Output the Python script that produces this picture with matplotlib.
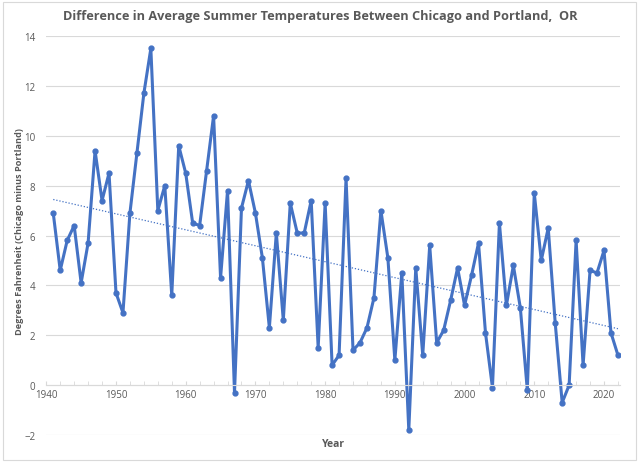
import numpy as np
import matplotlib.pyplot as plt
from matplotlib.patches import Rectangle
from matplotlib.ticker import MultipleLocator

years = np.arange(1941, 2023)
diff = [6.9, 4.6, 5.8, 6.4, 4.1, 5.7, 9.4, 7.4, 8.5, 3.7,
        2.9, 6.9, 9.3, 11.7, 13.5, 7.0, 8.0, 3.6, 9.6, 8.5,
        6.5, 6.4, 8.6, 10.8, 4.3, 7.8, -0.3, 7.1, 8.2, 6.9,
        5.1, 2.3, 6.1, 2.6, 7.3, 6.1, 6.1, 7.4, 1.5, 7.3,
        0.8, 1.2, 8.3, 1.4, 1.7, 2.3, 3.5, 7.0, 5.1, 1.0,
        4.5, -1.8, 4.7, 1.2, 5.6, 1.7, 2.2, 3.4, 4.7, 3.2,
        4.4, 5.7, 2.1, -0.1, 6.5, 3.2, 4.8, 3.1, -0.2, 7.7,
        5.0, 6.3, 2.5, -0.7, 0.0, 5.8, 0.8, 4.6, 4.5, 5.4,
        2.1, 1.2]

title = "Difference in Average Summer Temperatures Between Chicago and Portland,  OR"
xlabel = "Year"
ylabel = "Degrees Fahrenheit (Chicago minus Portland)"

blue = "#4472C4"
gray_text = "#595959"
grid_col = "#D9D9D9"
font = ["Open Sans", "DejaVu Sans"]

fig = plt.figure(figsize=(6.4, 4.64), dpi=100)
fig.patches.append(Rectangle((0.004, 0.006), 0.99, 0.988, transform=fig.transFigure,
                             fill=False, edgecolor=grid_col, linewidth=0.8))
ax = fig.add_axes([0.0723, 0.0603, 0.8965, 0.86])

# trend line (linear fit)
coef = np.polyfit(years, diff, 1)
ax.plot(years, np.polyval(coef, years), linestyle=(0, (1, 1.5)), color=blue, linewidth=0.9)

ax.plot(years, diff, color=blue, linewidth=2.2, marker="o", markersize=3.5)

ax.set_xlim(1940, 2022.3)
ax.set_ylim(-2, 14)
ax.set_yticks(np.arange(-2, 15, 2))
ax.xaxis.set_major_locator(MultipleLocator(10))
ax.xaxis.set_minor_locator(MultipleLocator(2))
ax.grid(axis="y", color=grid_col, linewidth=0.8)
ax.set_axisbelow(True)

for s in ["top", "right", "left"]:
    ax.spines[s].set_visible(False)
ax.spines["bottom"].set_position(("data", 0))
ax.spines["bottom"].set_color(grid_col)
ax.spines["bottom"].set_linewidth(0.8)

ax.tick_params(axis="y", length=0, pad=8, labelsize=7, labelcolor=gray_text)
ax.tick_params(axis="x", which="both", direction="in", color=grid_col, labelsize=7,
               labelcolor=gray_text, pad=3)
ax.tick_params(axis="x", which="major", length=3)
ax.tick_params(axis="x", which="minor", length=3)
for lab in ax.get_xticklabels() + ax.get_yticklabels():
    lab.set_fontfamily(font)

fig.text(0.5, 0.965, title, ha="center", va="center", fontsize=9.2, fontweight="bold",
         color=gray_text, family=font)
fig.text(0.521, 0.042, xlabel, ha="center", va="center", fontsize=7.5, fontweight="bold",
         color=gray_text, family=font)
fig.text(0.031, 0.50, ylabel, ha="center", va="center", rotation=90, fontsize=6.6,
         fontweight="bold", color=gray_text, family=font)

fig.savefig("out.png", dpi=100)
